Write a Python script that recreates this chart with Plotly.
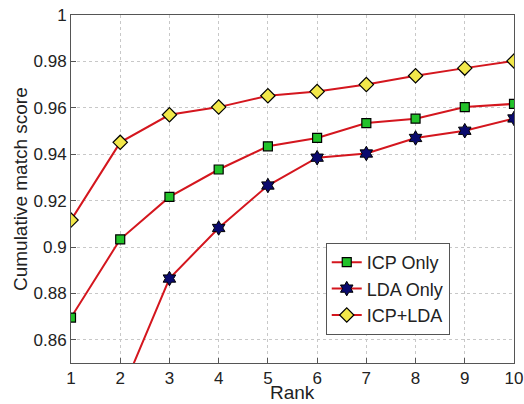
import plotly.graph_objects as go

rank = [1, 2, 3, 4, 5, 6, 7, 8, 9, 10]
icp_only = [0.8696, 0.9033, 0.9216, 0.9334, 0.9434, 0.9470, 0.9534, 0.9553, 0.9603, 0.9617]
lda_only = [0.790, 0.836, 0.8864, 0.9082, 0.9265, 0.9385, 0.9403, 0.9470, 0.9501, 0.9554]
icp_lda = [0.9116, 0.9451, 0.9570, 0.9603, 0.9652, 0.9670, 0.9700, 0.9738, 0.9771, 0.9802]

y_ticks = [0.86, 0.88, 0.9, 0.92, 0.94, 0.96, 0.98, 1]
y_tick_labels = ["0.86", "0.88", "0.9", "0.92", "0.94", "0.96", "0.98", "1"]

x_title = "Rank"
y_title = "Cumulative match score"

line_color = "#d4161e"
font_family = "Liberation Sans, Arial, sans-serif"
text_color = "#222222"

fig = go.Figure()
fig.add_trace(go.Scatter(
    x=rank, y=icp_only, name="ICP Only", mode="lines+markers",
    line=dict(color=line_color, width=2),
    marker=dict(symbol="square", size=9, color="#22c22a", line=dict(color="black", width=1.2)),
))
fig.add_trace(go.Scatter(
    x=rank, y=lda_only, name="LDA Only", mode="lines+markers",
    line=dict(color=line_color, width=2),
    marker=dict(symbol="hexagram", size=11, color="#0a0a6e", line=dict(color="black", width=1)),
))
fig.add_trace(go.Scatter(
    x=rank, y=icp_lda, name="ICP+LDA", mode="lines+markers",
    line=dict(color=line_color, width=2),
    marker=dict(symbol="diamond", size=11, color="#f2e84a", line=dict(color="black", width=1.2)),
))

axis_common = dict(
    showline=True, linecolor="#555555", linewidth=1, mirror=True,
    showgrid=True, gridcolor="#c8c8c8", griddash="dot", gridwidth=1,
    ticks="inside", ticklen=5, tickcolor="#555555",
    tickfont=dict(family=font_family, size=17, color=text_color),
    ticklabeloverflow="allow", automargin=False,
    zeroline=False,
)

fig.update_layout(
    width=524, height=404,
    margin=dict(l=71, r=10, t=15, b=41),
    paper_bgcolor="white", plot_bgcolor="white",
    font=dict(family=font_family, size=17, color=text_color),
    showlegend=True,
    legend=dict(
        x=0.715, y=0.2126, xanchor="center", yanchor="middle",
        bgcolor="white", bordercolor="#555555", borderwidth=1,
        font=dict(family=font_family, size=18, color=text_color),
        tracegroupgap=0, itemsizing="trace",
    ),
    xaxis=dict(range=[1, 10], tickvals=rank, ticktext=[str(r) for r in rank], **axis_common),
    yaxis=dict(range=[0.85, 1.0], tickvals=y_ticks, ticktext=y_tick_labels, **axis_common),
    annotations=[
        dict(text=x_title, xref="paper", yref="paper", x=0.5, y=-0.086,
             xanchor="center", yanchor="middle", showarrow=False,
             font=dict(family=font_family, size=19, color=text_color)),
        dict(text=y_title, xref="paper", yref="paper", x=-0.115, y=0.5,
             xanchor="center", yanchor="middle", textangle=-90, showarrow=False,
             font=dict(family=font_family, size=19, color=text_color)),
    ],
)

# remove the default 8px page margin so the figure fills the window exactly
fig.write_html("out.html", config={"displayModeBar": False},
               post_script="document.body.style.margin='0';")
